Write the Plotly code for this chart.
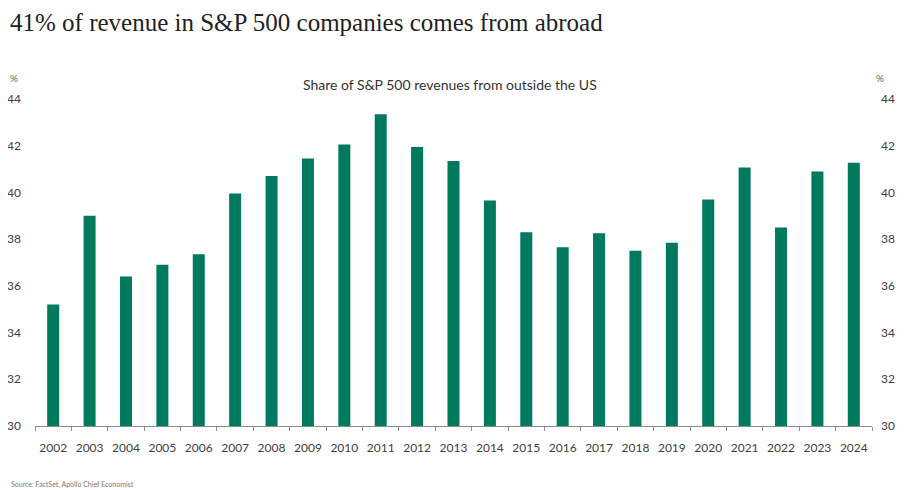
import plotly.graph_objects as go

# Share of S&P 500 revenues from outside the US (%)
years = [str(y) for y in range(2002, 2025)]
share_abroad = [35.2, 39.0, 36.4, 36.9, 37.35, 39.95, 40.7, 41.45, 42.05, 43.35,
                41.95, 41.35, 39.65, 38.3, 37.65, 38.25, 37.5, 37.85, 39.7, 41.07,
                38.5, 40.9, 41.27]
y_ticks = [30, 32, 34, 36, 38, 40, 42, 44]

bar_color = '#007A5E'
text_color = '#404040'
font_main = 'Lato, Open Sans, sans-serif'

fig = go.Figure()

fig.add_trace(go.Bar(
    x=years,
    y=share_abroad,
    marker=dict(color=bar_color, line=dict(width=0)),
    hoverinfo='x+y',
    showlegend=False
))

# invisible trace so the right-hand axis gets drawn
fig.add_trace(go.Scatter(
    x=years,
    y=share_abroad,
    yaxis='y2',
    mode='lines',
    line=dict(width=0),
    opacity=0,
    hoverinfo='skip',
    showlegend=False
))

# page body adds 8px around the figure, so the figure is 8px smaller
fig.update_layout(
    width=901,
    height=482,
    margin=dict(l=27, r=37, t=91, b=64, autoexpand=False),
    paper_bgcolor='white',
    plot_bgcolor='white',
    bargap=0.67,
    font=dict(family=font_main, size=12, color=text_color),
    xaxis=dict(
        type='category',
        range=[-0.5, len(years) - 0.5],
        automargin=False,
        showgrid=False,
        showline=True,
        linecolor='#8c8c8c',
        linewidth=1,
        ticks='outside',
        tickson='boundaries',
        ticklen=4,
        tickcolor='#8c8c8c',
        tickangle=0,
        tickfont=dict(size=12, color=text_color),
        ticklabelstandoff=11
    ),
    yaxis=dict(
        range=[30, 44],
        tickvals=y_ticks,
        automargin=False,
        showgrid=False,
        zeroline=False,
        showline=False,
        ticks='',
        ticklabelstandoff=13,
        tickfont=dict(size=12, color=text_color)
    ),
    yaxis2=dict(
        range=[30, 44],
        tickvals=y_ticks,
        overlaying='y',
        side='right',
        automargin=False,
        showgrid=False,
        zeroline=False,
        showline=False,
        ticks='',
        ticklabelstandoff=8,
        tickfont=dict(size=12, color=text_color)
    ),
    annotations=[
        dict(text='41% of revenue in S&P 500 companies comes from abroad',
             xref='paper', yref='paper', x=-0.0311, y=1.2783,
             xanchor='left', yanchor='top', showarrow=False, borderpad=0,
             font=dict(family='Liberation Serif, serif', size=25, color='#222222')),
        dict(text='Share of S&P 500 revenues from outside the US',
             xref='paper', yref='paper', x=0.496, y=1.043,
             xanchor='center', yanchor='middle', showarrow=False,
             font=dict(size=14, color='#333333')),
        dict(text='%', xref='paper', yref='paper', x=-0.025, y=1.064,
             xanchor='center', yanchor='middle', showarrow=False,
             font=dict(size=10, color='#666666')),
        dict(text='%', xref='paper', yref='paper', x=1.0096, y=1.064,
             xanchor='center', yanchor='middle', showarrow=False,
             font=dict(size=10, color='#666666')),
        dict(text='Source: FactSet, Apollo Chief Economist',
             xref='paper', yref='paper', x=-0.0311, y=-0.178,
             xanchor='left', yanchor='middle', showarrow=False,
             font=dict(size=7, color='#777777'))
    ]
)

fig.write_html('out.html')
